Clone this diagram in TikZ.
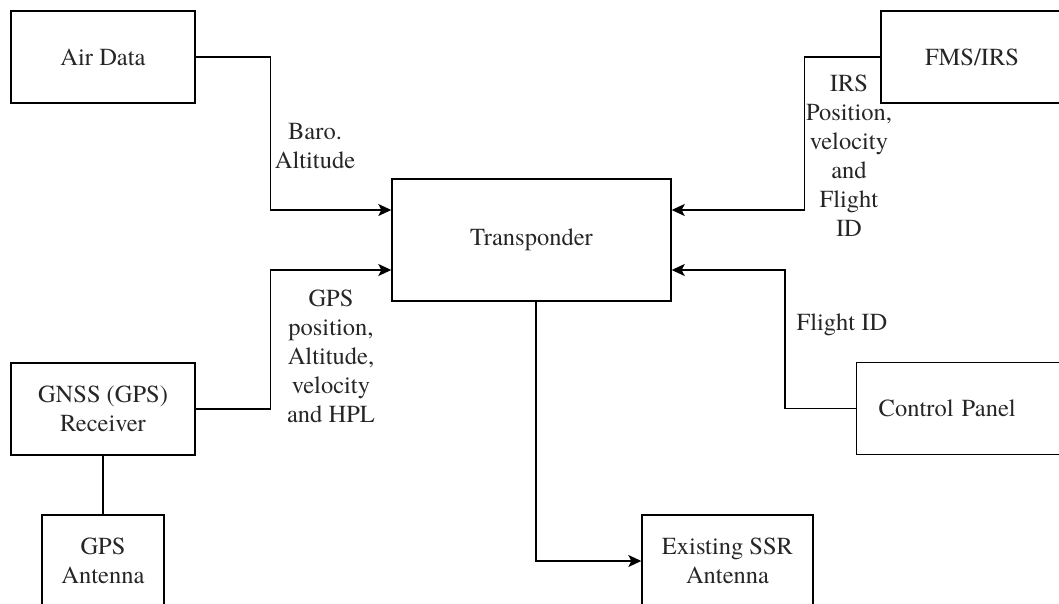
\documentclass[tikz,border=0pt]{standalone}
\usepackage{fontspec}
\setmainfont{TeX Gyre Termes}
\usetikzlibrary{arrows.meta}
\begin{document}
\begin{tikzpicture}[x=1pt,y=-1pt,line width=1.4pt,
  every node/.style={font=\fontsize{24.5}{29}\selectfont,text=black!85},
  box/.style={draw,rectangle,inner sep=0pt,minimum height=92pt,align=center},
  arr/.style={-{Stealth[length=13pt,width=12pt,inset=3pt]}}]
  \useasboundingbox (0,0) rectangle (1059,603);
  \node[box,minimum width=184pt] (air) at (103,57) {Air Data};
  \node[box,minimum width=184pt] (gnss) at (103,409) {GNSS (GPS)\\Receiver};
  \node[box,minimum width=122pt] (gpsant) at (103,561) {GPS\\Antenna};
  \node[box,minimum width=279pt,minimum height=122pt] (tr) at (531.5,240) {Transponder};
  \node[box,minimum width=182pt] (fms) at (972,57) {FMS/IRS};
  \node[box,anchor=west,inner xsep=22pt,text width=186pt,align=left] (ctrl)
       at (856,408.5) {Control Panel};
  \node[box,minimum width=171pt] (ssr) at (727.5,561) {Existing SSR\\Antenna};
  \draw[arr] (air.east) -- ++(75,0) |- ([yshift=30pt]tr.west);
  \draw[arr] (gnss.east) -- ++(75,0) |- ([yshift=-30pt]tr.west);
  \draw[arr] (fms.west) -- ++(-76,0) |- ([yshift=30pt]tr.east);
  \draw[arr] (ctrl.west) -- ++(-71,0) |- ([yshift=-30pt]tr.east);
  \draw[arr] ([xshift=4.5pt]tr.south) |- (ssr.west);
  \draw (gnss.south) -- (gpsant.north);
  \node[align=center] (baro) at (315,146) {Baro.\\Altitude};
  \node[align=center] (gpsdata) at (331,356) {GPS\\position,\\Altitude,\\velocity\\and HPL};
  \node[align=center] (irsdata) at (849,156) {IRS\\Position,\\velocity\\and\\Flight\\ID};
  \node (flightid) at (842,325) {Flight ID};
\end{tikzpicture}
\end{document}
